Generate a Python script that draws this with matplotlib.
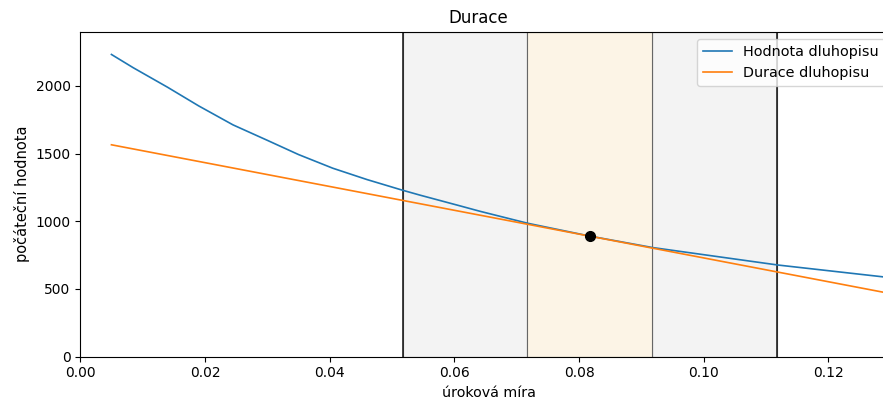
#!/usr/bin/env python
# -*- coding: utf-8 -*-

"""
plot.py: hodnota dluhopisu a její aproximace durací (tečna v bodě výnosu)
"""

import matplotlib
matplotlib.use("Agg")
import matplotlib.pyplot as plt

# úroková míra a hodnota dluhopisu
sazby = [0.005, 0.0085, 0.014, 0.019, 0.0245, 0.030, 0.035, 0.0405, 0.046,
         0.0515, 0.0545, 0.0609, 0.0641, 0.0718, 0.0817, 0.0918, 0.1119,
         0.1287, 0.132]
hodnota = [2232, 2134, 1990, 1852, 1712, 1598, 1493, 1392, 1308,
           1232, 1193, 1114, 1074, 985, 891, 806, 677,
           590, 575]

# tečna (durace) - přímka mezi krajními body
sazby_durace = [0.005, 0.132]
hodnota_durace = [1565, 448]

# bod dotyku a pásma kolem něj
ytm = 0.0817
ytm_hodnota = 891
posun_vnitrni = 0.01
posun_vnejsi = 0.03


def main():
    fig = plt.figure(figsize=(8.83, 4.03), dpi=100)
    # osa je vpravo oříznutá stejně jako v originálu
    ax = fig.add_axes([0.0909, 0.1149, 0.926, 0.8064])

    # pásma
    ax.axvspan(ytm - posun_vnejsi, ytm - posun_vnitrni, facecolor='#f3f3f3',
               edgecolor='#666666', linewidth=0.8, zorder=0)
    ax.axvspan(ytm + posun_vnitrni, ytm + posun_vnejsi, facecolor='#f3f3f3',
               edgecolor='#666666', linewidth=0.8, zorder=0)
    ax.axvspan(ytm - posun_vnitrni, ytm + posun_vnitrni, facecolor='#fcf4e6',
               edgecolor='#666666', linewidth=0.8, zorder=0)
    ax.axvline(ytm - posun_vnejsi, color='#222222', linewidth=1.2, zorder=1)
    ax.axvline(ytm + posun_vnejsi, color='#222222', linewidth=1.2, zorder=1)

    ax.plot(sazby, hodnota, color='#1f77b4', linewidth=1.2,
            label='Hodnota dluhopisu', zorder=2)
    ax.plot(sazby_durace, hodnota_durace, color='#ff7f0e', linewidth=1.2,
            label='Durace dluhopisu', zorder=2)
    ax.plot([ytm], [ytm_hodnota], 'o', color='black', markersize=7, zorder=3)

    ax.set_xlim(0, 0.13115)
    ax.set_ylim(0, 2400)
    ax.set_xticks([0.0, 0.02, 0.04, 0.06, 0.08, 0.10, 0.12])
    ax.set_yticks([0, 500, 1000, 1500, 2000])
    ax.xaxis.set_major_formatter(plt.FormatStrFormatter('%.2f'))

    ax.set_title('Durace', x=0.4864)
    ax.set_xlabel('úroková míra', fontsize=10.3)
    ax.set_ylabel('počáteční hodnota', fontsize=10.5)
    # legenda umístěná podle originálu (rámeček vpravo přesahuje okraj)
    ax.legend(loc='upper left', fontsize=10.4, borderaxespad=0,
              bbox_to_anchor=(697 / 883, 1 - 39 / 403),
              bbox_transform=fig.transFigure)

    fig.savefig('out.png', dpi=100)


if __name__ == "__main__":
    main()
